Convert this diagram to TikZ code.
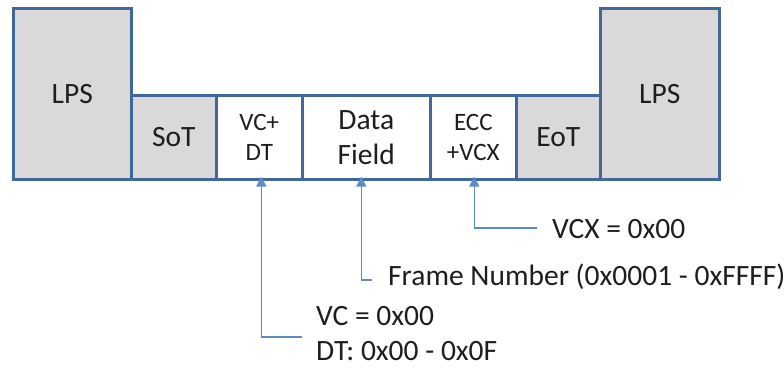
\documentclass[tikz,border=0pt]{standalone}
\usepackage{fontspec}
\setmainfont{Carlito}
\usetikzlibrary{arrows.meta}
\definecolor{boxline}{HTML}{41689B}
\definecolor{boxfill}{HTML}{D9D9D9}
\definecolor{connc}{HTML}{5B8CC8}
\definecolor{txt}{HTML}{1E1E1E}
\tikzset{
  box/.style={draw=boxline, line width=2.6pt, anchor=north west, inner sep=0pt,
    align=center, text=txt, font=\fontsize{29.5}{35}\selectfont, line join=miter},
  grey/.style={box, fill=boxfill},
  white/.style={box, fill=white},
  small/.style={font=\fontsize{25}{30}\selectfont},
  conn/.style={draw=connc, line width=1.6pt, -{Triangle[length=10pt,width=10pt]}},
  lbl/.style={anchor=west, inner sep=0pt, align=left, text=txt,
    font=\fontsize{29.5}{35}\selectfont}
}
\begin{document}
\begin{tikzpicture}[x=1pt,y=-1pt]
\useasboundingbox (0,0) rectangle (784,369);
\node[grey, minimum width=118pt, minimum height=171pt] (lps1) at (12,7) {LPS};
\node[grey, minimum width=85pt, minimum height=84pt] (sot) at (130,94) {SoT};
\node[white, small, minimum width=86pt, minimum height=84pt] (vcdt) at (215,94) {VC+\\DT};
\node[white, minimum width=128pt, minimum height=84pt] (data) at (301,94) {Data\\Field};
\node[white, small, minimum width=86pt, minimum height=84pt] (ecc) at (429,94) {ECC\\+VCX};
\node[grey, minimum width=84pt, minimum height=84pt] (eot) at (515,94) {EoT};
\node[grey, minimum width=119pt, minimum height=171pt] (lps2) at (599,7) {LPS};

\coordinate (e1) at (302,337);
\coordinate (e2) at (372,280);
\coordinate (e3) at (537,228);
\node[lbl] (l1) at (316,334) {VC = 0x00\\DT: 0x00 - 0x0F};
\node[lbl] (l2) at (388,277) {Frame Number (0x0001 - 0xFFFF)};
\node[lbl] (l3) at (552,229) {VCX = 0x00};

\draw[conn] (e1) -| ([xshift=2pt,yshift=4pt]vcdt.south);
\draw[conn] (e2) -| ([xshift=-5pt,yshift=4pt]data.south);
\draw[conn] (e3) -| ([xshift=1pt,yshift=4pt]ecc.south);
\end{tikzpicture}
\end{document}
